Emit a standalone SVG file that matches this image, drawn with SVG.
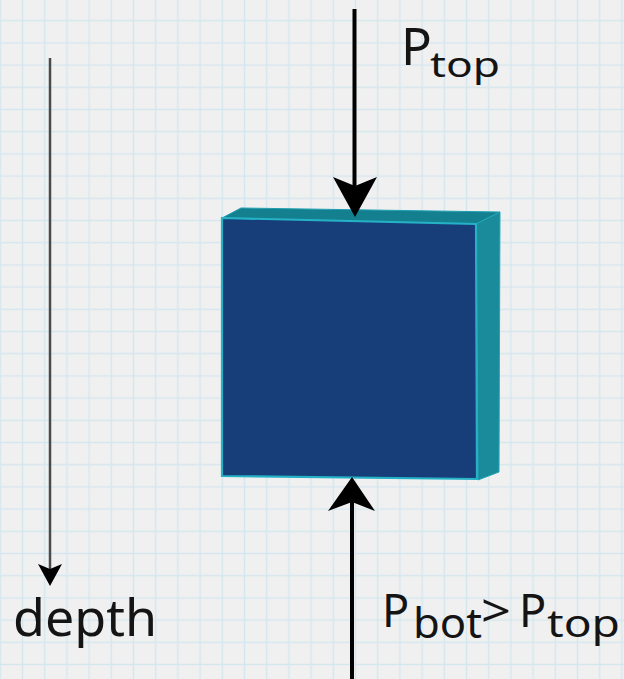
<svg xmlns="http://www.w3.org/2000/svg" width="624" height="679" viewBox="0 0 624 679">
  <style>
    .lbl { font-family: "Noto Sans", "Open Sans", "DejaVu Sans", sans-serif; fill: #141414; }
    .shaft { stroke: #000; stroke-width: 4; fill: none; }
    .head { fill: #000; }
  </style>
  <defs>
    <pattern id="grid" patternUnits="userSpaceOnUse" x="11.4" y="9.6" width="22.2" height="22.2">
      <path d="M11.1 0 V22.2 M0 11.1 H22.2" stroke="#d5e7ee" stroke-width="1.5" fill="none"/>
    </pattern>
  </defs>
  <rect x="0" y="0" width="624" height="679" fill="#f0f0f0"/>
  <rect x="0" y="0" width="624" height="679" fill="url(#grid)"/>

  <g id="block">
    <polygon points="222,218 241,208 500,212 476,224" fill="#14808f" stroke="#1f9fb2" stroke-width="1"/>
    <polygon points="476,224 500,212 499,472 478,480" fill="#1a8b9b" stroke="#22a6b8" stroke-width="1"/>
    <polygon points="222,218 476,224 477,479 222,476" fill="#173e78" stroke="#25b2c6" stroke-width="2.2"/>
  </g>

  <g id="connectors">
    <g id="arrow-top">
      <line class="shaft" x1="354.5" y1="9" x2="354.5" y2="190"/>
      <polygon class="head" points="355,217 333,177 355,186 377,177"/>
    </g>
    <g id="arrow-bottom">
      <line class="shaft" x1="352" y1="500" x2="352" y2="679"/>
      <polygon class="head" points="352,477 328,511 352,502 375,511"/>
    </g>
    <g id="arrow-depth">
      <line x1="50" y1="58" x2="50" y2="572" stroke="#4a4a4a" stroke-width="2.5"/>
      <polygon class="head" points="50,586 38,564 50,569 62,564"/>
    </g>
  </g>

  <g id="label-ptop">
    <text class="lbl" x="401" y="65" font-size="51">P</text>
    <text class="lbl" x="430" y="77" font-size="34" textLength="70" lengthAdjust="spacingAndGlyphs">top</text>
  </g>

  <g id="label-pbot">
    <text class="lbl" x="382" y="627" font-size="45">P</text>
    <text class="lbl" x="413" y="638" font-size="41" textLength="69" lengthAdjust="spacingAndGlyphs">bot</text>
    <text class="lbl" x="481" y="627" font-size="45" textLength="30" lengthAdjust="spacingAndGlyphs">&gt;</text>
    <text class="lbl" x="519" y="627" font-size="45">P</text>
    <text class="lbl" x="547" y="637" font-size="38" textLength="73" lengthAdjust="spacingAndGlyphs">top</text>
  </g>

  <g id="label-depth">
    <text class="lbl" x="13" y="636" font-size="51" textLength="144" lengthAdjust="spacingAndGlyphs">depth</text>
  </g>
</svg>
